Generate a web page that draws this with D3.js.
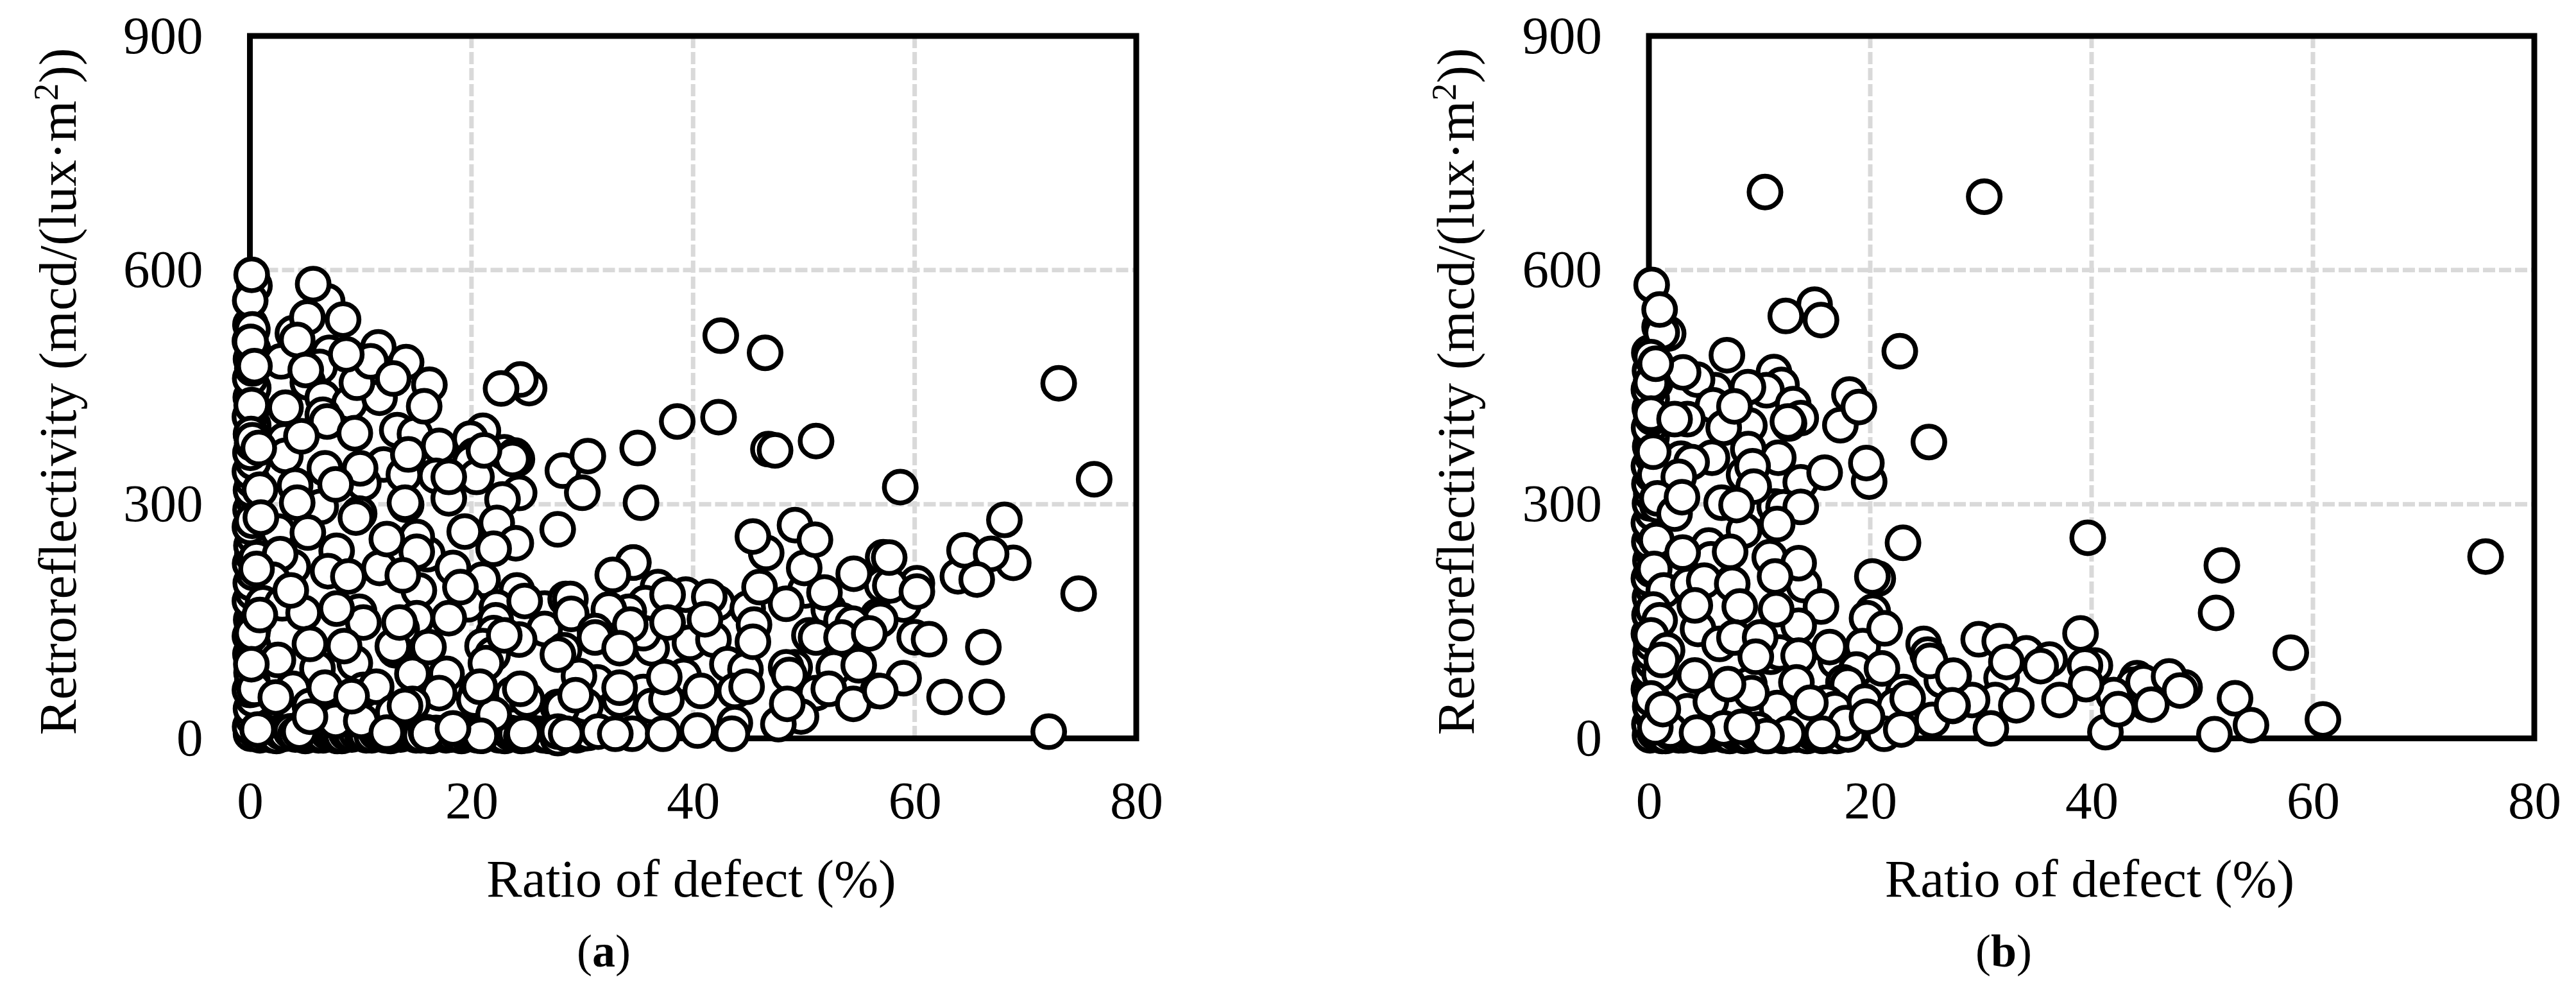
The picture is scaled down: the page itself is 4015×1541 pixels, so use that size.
<!doctype html>
<html lang="en">
    <head>
        <title>Retroreflectivity vs ratio of defect</title>
        <meta charset="utf-8">
        <style>
            body { margin: 0; background: #fff; }
            text { font-family: "Liberation Serif", "Times New Roman", serif; fill: #000; }
        </style>
    </head>
    <body>
        <svg></svg>
        <script src="https://d3js.org/d3.v7.min.js"></script>
        <script>
            //Tick labels
            var xTicks = [0, 20, 40, 60, 80];
            var yTicks = [0, 300, 600, 900];
            var xTitle = "Ratio of defect (%)";

            //Points are [ratio of defect, retroreflectivity], in drawing order
            //The stacks hugging both axes go first, they only show as a thick black band
            var bandA = [[0.1,6],[0.5,9],[0.9,4],[1.3,8],[1.6,7],[2,4],[2.4,3],[2.8,8],[3.2,6],[3.7,9],[4.1,5],[4.5,8],[5,3],[5.4,6],[5.8,7],[6.2,4],[6.6,4],[7,8],[7.5,6],[7.9,3],[8.3,3],[8.7,7],[9.2,5],[9.6,8],[10.1,7],[10.5,4],[11,4],[11.4,8],[11.8,6],[12.2,4],[12.7,3],[13.1,7],[13.6,5],[14,8],[14.5,7],[15,4],[15.4,4],[15.9,8],[16.3,3],[16.8,7],[17.2,6],[17.7,4],[18.2,5],[18.6,8],[19.1,3],[19.5,6],[20,6],[20.5,4],[21,4],[21.5,8],[22,7],[22.5,4],[23,3],[23.5,7],[24,6],[24.5,3],[25,4],[25.5,7],[26,6],[26.5,4],[27,3],[27.6,7],[28.2,5],[28.8,7],[29.5,4],[30,6],[30.5,7],
                [0.02,15],[0.25,26],[0.1,38],[0.3,50],[0,62],[0.22,73],[0.15,84],[0.3,96],[0.05,108],[0.28,119],[0,131],[0.2,141],[0.12,152],[0.32,164],[0,176],[0.25,187],[0.08,199],[0.3,212],[0.02,224],[0.22,235],[0.14,247],[0.3,259],[0,271],[0.26,282],[0.06,293],[0.3,306],[0.1,318],[0.24,330],[0,342],[0.28,354],[0.05,366],[0.2,378],[0.12,389],[0.3,401],[0,412],[0.25,425],[0.08,437],[0.3,449],[0.03,461],[0.22,474],[0.1,486],[0.28,498],[0,509],[0.05,530]];
            var backA = [[0.41,580],[0.03,561],[0.22,524],[0.07,508],[6.97,560],[3.88,519],[11.59,501],[14.1,482],[7.16,494],[6.29,476],[2.82,483],[16.2,453],[5.23,456],[6.58,436.5],[8.99,429.6],[11.7,436.5],[9.66,455.7],[0.16,427],[6.58,414.6],[13.3,395],[14.9,390],[0.1,390],[0.22,382],[3.1,381.7],[3.2,362],[17.08,374.8],[21.03,394],[19.9,384],[22.96,366.6],[23.9,362.5],[24.1,358],[23.7,358],[20.26,362.5],[19.9,354],[12.07,351],[6.39,326.8],[6.77,346],[10.24,327],[4.08,324],[16.8,336.4],[20.45,335],[24.3,314.5],[17.95,307.6],[25.2,448.8],[24.4,459.8],[14.1,299.4],[13.9,337.8],[22.8,306],
                [0.22,278.8],[2.53,265],[6.39,296.6],[4.27,302],[9.86,288],[14,302],[16.02,236],[15.06,258],[7.83,240.4],[22.28,276],[24,250],[0.6,230.8],[3.88,219.8],[2.73,236],[2.05,203.3],[7.06,214.3],[11.7,218.4],[15.25,189.6],[18.33,218.4],[21,203.3],[1.18,173],[0.32,143],[0.22,134.8],[2.92,173],[4.85,160.8],[3.69,189.6],[9.86,162.2],[10.24,148.5],[15.06,154],[19.68,171.8],[13.7,140],[13.13,112.9],[12.9,118],[24.1,189.6],[26.6,166.3],[26.6,140.3],[22.3,167.7],[22.19,151.2],[24.3,126.6],[22,134.8],[21,118.3],[21.9,107.4],[28.5,178.7],[2.53,100.5],[6.1,89.6],[9.47,96.4],[14.67,82.7],[17.75,82.7],[17.08,58],[0.41,63.5],[3.88,63.5],[10.24,62.1],[11.4,66.2],[5.42,41.6],[14.67,44.3],[12.94,33.3],[20.45,58],[20.26,49.8],[23.7,56.6],[25,49.8],[22,30.6],[27.8,40.2],[7.74,22.4],[10.05,22.4],[4.46,8.7],[12.36,7.3],[5.42,27.8],[16,6],[20.84,3.2],[27.8,0.4],
                [34.6,225.3],[36.83,193.8],[39.34,184.2],[35.68,173.2],[34.2,162.2],[32.4,165],[28.93,178.7],[29,159.5],[31.15,137.5],[28.36,112.9],[36.26,115.6],[35.5,134.8],[42.2,173.2],[41.46,181.4],[44.93,166.3],[50.13,189.6],[52.25,165],[45.5,145.8],[39.72,122.5],[41.84,126.6],[50.5,132],[54.56,134.8],[56.68,156.7],[53.4,151.2],[43.1,95],[44.73,88.2],[43.77,60.8],[49.17,91],[48.4,91],[52.7,89.6],[54.95,93.7],[51.1,58],[56.68,60.8],[49.74,28],[47.7,18.3],[39.15,80],[35.5,59.4],[31.34,71.7],[29.7,80],[36.26,41.6],[37.6,49.8],[33.37,49.8],[30.28,41.6],[28.16,38.8],[34.5,5.9],[43.77,19.6],[31.44,8.7],[27.8,8.7],[28.55,5.9],
                [46.6,237.6],[49.2,273.3],[50.03,218.4],[57.16,232],[57.07,196.5],[34.6,225.3],[59,171.5],[60,129.6],[60.2,198.7],[57.8,196],[46.8,370.6],[56.9,151.8],[54.4,146.9],[68.9,225],[63.9,207.7],[64.5,241]];
            var frontA = [[0.16,594],[5.19,539.3],[8.41,536.6],[4.27,510.5],[5.71,582],[10.9,483],[8.7,492],[0.41,477],[5.04,472],[12.94,461],[15.73,425.5],[3.21,423.6],[6.97,406],[9.47,391],[4.65,387],[0.8,372],[14.3,363.8],[9.95,346],[7.74,325.4],[17.95,335],[21.13,369],[0.9,318.6],[22.67,448.3],
                [0.99,282.9],[5.23,263.7],[9.57,282.9],[12.36,255.4],[15.06,239],[19.39,265],[22,243],[28.25,343],[30.5,361.7],[30,314.7],[0.6,217],[8.89,207.5],[13.8,208.8],[19,193.8],[0.9,158],[7.83,166.3],[13.5,148.5],[17.95,154],[24.8,176],[5.42,121],[8.5,118.3],[16.12,117],[22.96,132],[21.3,96.4],[27.8,107.4],[0.13,95],[2.34,52.5],[6.77,64.9],[9.18,54],[14,41.6],[20.74,66.2],[24.4,63.5],[0.7,11.4],[18.33,12.8],[24.69,5.9],
                [27.78,267.8],[38.57,406],[42.3,411.6],[42.5,516],[46.5,494],[35,372],[35.3,302],[47.4,369],[51.1,381],[58.7,322],[73,455],[76.2,332],[68.1,280],[66.9,236.5],[65.6,203.6],[74.8,185.5],[66.2,117],[66.5,53],[62.7,53],[72.1,8.6],[61.3,127],[59,77],[60.2,188],[57.7,231.6],[54.5,211],
                [45.4,258.7],[51,254.6],[32.75,209.4],[37.7,184.2],[41.07,152.6],[46,193.8],[48.4,172.4],[51.86,186.9],[34.33,145.8],[31.15,129.3],[33.37,115.6],[37.7,148.5],[45.4,123.8],[51.1,129.3],[53.4,129.3],[55.9,134.5],[33.37,64.9],[29.4,55.3],[40.7,60.8],[44.83,66.2],[48.68,81.3],[52.25,63.5],[48.5,44.3],[54.46,44.3],[37.4,78.6],[32.98,5.9],[37.3,5.9],[40.4,10],[43.5,5.9],[56.9,60.5]];

            var bandB = [[0.1,4],[0.5,8],[0.8,6],[1.2,3],[1.5,3],[1.9,8],[2.3,7],[2.7,4],[3.1,4],[3.5,8],[3.9,6],[4.4,4],[4.8,3],[5.2,7],[5.6,5],[6,8],[6.5,7],[6.9,4],[7.3,3],[7.8,7],[8.2,6],[8.6,3],[9,4],[9.5,8],[9.9,7],[10.4,4],[10.8,3],[11.2,7],[11.6,6],[12.1,3],[12.5,4],[13,8],[13.4,5],[13.9,7],[14.3,3],[14.8,7],[15.2,6],[15.7,3],[16.1,4],[16.5,7],[17,3],[18,5],
                [0.05,18],[0.3,30],[0.12,41],[0.28,52],[0,63],[0.25,75],[0.08,87],[0.3,98],[0.15,110],[0.22,122],[0,134],[0.3,146],[0.06,158],[0.26,170],[0.1,181],[0.3,193],[0,205],[0.24,216],[0.14,228],[0.3,240],[0.04,252],[0.26,264],[0,276],[0.3,289],[0.1,301],[0.22,313],[0.05,326],[0.28,338],[0,349],[0.3,361],[0.12,374],[0.24,386],[0.02,398],[0.3,411],[0.08,423],[0.25,435],[0,447],[0.28,459],[0.1,471],[0.04,494]];
            var backB = [[0.25,581],[1.74,518.7],[0.97,527],[1.16,520],[0.19,488.5],[0.58,455.6],[0.19,455.6],[14.97,555.7],[18.12,440.5],[17.3,401.3],[19.9,329],[11.3,469.3],[11.98,452.9],[10.63,446],[5.99,446],[4.35,459.7],[3.09,469],[5.8,426.8],[13.04,428.2],[13.72,410.4],[12.66,403.5],[3.48,409],[0.19,416],[8.21,406],[9.08,400.8],[6.76,398],[8.98,370.6],[11.69,359.6],[5.7,359.6],[8.6,337.7],[13.72,328],[2.9,358.3],[3.86,354],[0.58,337.7],[2.7,335],[0.77,299],[0.77,307.5],[6.57,302],[10.24,298],[11.37,297],[12.17,296],[13.72,296.6],
                [2.32,288],[11.59,274.6],[8.6,266.4],[0.68,254],[5.41,247],[5.6,229.4],[7.34,239],[10.92,232],[14,196.5],[20.68,204.7],[0.48,217],[1.35,189.6],[3.57,196.5],[5,202],[7.53,198],[0.39,165],[0.97,151.2],[8.21,169],[15.55,169],[13.53,144.4],[4.44,140.3],[0.19,132],[1.64,112.9],[6.38,121],[7.73,129.3],[11,104.6],[11.79,110],[10.05,129.3],[13.53,106],[16.9,99.2],[20.23,162.2],[19.71,154],[19.32,118.3],[24.83,121],[25.2,107.4],[18.74,88.2],[0.97,82.7],[9.08,69],[13.33,71.7],[17.58,71.7],[17.97,69],[22.99,59.4],[26.47,74.5],[16.04,45.7],[16.81,37.5],[19.52,47],[11.59,38.8],[9.27,58],[0.19,51.2],[3.48,34.7],[5.6,47],[22.22,41.6],[25.6,23.7],[21.25,5.9],[13.72,17],[17.78,19.6],[9.85,11.4],[6.76,12.8],[1.93,10],[0.58,14.1],[12.56,6],[10.63,3],
                [29.8,127],[31.7,124.6],[34.1,109],[36.2,101],[40.3,93.4],[31.87,77.2],[31.3,49.2],[29.2,49.2],[44.1,77],[43.8,68.7],[48.4,65.4],[45,45],[42,55.5]];
            var frontB = [[0.97,549.4],[10.49,700],[30.3,694],[0.62,480],[7.05,491],[12.37,541.2],[15.55,536],[22.67,496],[18.97,424.6],[25.3,379.7],[19.65,352.8],[8.95,450],[7.73,425.4],[12.56,406],[2.32,409],[0.39,367.3],[9.37,348.7],[15.88,340.5],[9.47,322.6],[2.99,309],[7.92,299],
                [3.05,238],[13.53,224.5],[11.4,207.5],[20.19,207.5],[22.96,250.5],[4.15,170.4],[11.5,165.5],[21.3,141],[1.16,100.5],[9.66,104.6],[16.33,117],[4.15,80.5],[7.15,69.5],[21.06,89.6],[25.4,99.2],[23.38,51.2],[27.44,41.6],[27.54,80],[14.59,45.7],[1.26,37.5],[4.35,7.3],[8.4,14.7],[15.65,5.9],[19.71,27.8],[22.8,11.4],
                [39.65,257],[51.77,221.7],[51.25,160.8],[58,109.8],[75.6,233],[52.96,51.4],[54.4,16.9],[51.1,5.3],[60.9,24.3],[41.25,8],[30.9,12.7],[39,134.5],[39.4,93.4],[39.5,69.5],[37.1,49.2],[35.4,92.6],[32.3,97.9],[33.2,42.4],[27.5,80.4],[27.4,42.4],[44.7,72],[47,79.4],[47.99,61.3],[45.4,43.2],[42.4,37.4]];

            var svgWidth = 4015;
            var svgHeight = 1541;
            var svg = d3.select("svg")
                .attr("width", svgWidth)
                .attr("height", svgHeight);

            //Both panels sit on the same vertical scale
            var y = d3.scaleLinear().domain([0, 900]).range([1150.5, 56]);

            drawPanel({left: 389.5, right: 1771, titleX: 1077.5, yTitleX: 118, letter: "a", letterX: 941,
                points: bandA.concat(backA, frontA)});
            drawPanel({left: 2570, right: 3950, titleX: 3257, yTitleX: 2297, letter: "b", letterX: 3123,
                points: bandB.concat(backB, frontB)});

            function drawPanel(p){
                var x = d3.scaleLinear().domain([0, 80]).range([p.left, p.right]);
                var g = svg.append("g");

                //Dashed grid, inner lines only
                g.selectAll("line.gx").data(xTicks.slice(1, -1)).enter().append("line")
                    .attr("class", "gx")
                    .attr("x1", x).attr("x2", x)
                    .attr("y1", y(900)).attr("y2", y(0));
                g.selectAll("line.gy").data(yTicks.slice(1, -1)).enter().append("line")
                    .attr("class", "gy")
                    .attr("y1", y).attr("y2", y)
                    .attr("x1", p.left).attr("x2", p.right);
                g.selectAll("line")
                    .attr("stroke", "#d9d9d9")
                    .attr("stroke-width", 7)
                    .attr("stroke-dasharray", "19 6");

                //Plot frame
                g.append("rect")
                    .attr("x", p.left).attr("y", y(900))
                    .attr("width", p.right - p.left).attr("height", y(0) - y(900))
                    .attr("fill", "none")
                    .attr("stroke", "#000")
                    .attr("stroke-width", 9);

                //Tick labels through the axes, no ticks or domain line
                var xAxis = g.append("g")
                    .attr("transform", "translate(0," + 1275 + ")")
                    .call(d3.axisBottom(x).tickValues(xTicks).tickSize(0).tickPadding(0));
                xAxis.select(".domain").remove();
                xAxis.selectAll("text")
                    .attr("y", 0).attr("dy", 0)
                    .attr("font-size", 83).attr("font-family", null);
                var yAxis = g.append("g")
                    .attr("transform", "translate(" + (p.left - 73) + ",0)")
                    .call(d3.axisLeft(y).tickValues(yTicks).tickSize(0).tickPadding(0));
                yAxis.select(".domain").remove();
                yAxis.selectAll("text")
                    .attr("x", 0).attr("dy", 26)
                    .attr("font-size", 83).attr("font-family", null);
                xAxis.attr("font-family", null).attr("fill", null);
                yAxis.attr("font-family", null).attr("fill", null);

                //Markers
                g.selectAll("circle").data(p.points).enter().append("circle")
                    .attr("cx", function(d){ return x(d[0]); })
                    .attr("cy", function(d){ return y(d[1]); })
                    .attr("r", 24.75)
                    .attr("fill", "#fff")
                    .attr("stroke", "#000")
                    .attr("stroke-width", 7.5);

                //Axis titles
                g.append("text")
                    .attr("x", p.titleX).attr("y", 1397)
                    .attr("text-anchor", "middle")
                    .attr("font-size", 83)
                    .text(xTitle);
                var yTitle = g.append("text")
                    .attr("transform", "translate(" + p.yTitleX + ",610) rotate(-90)")
                    .attr("text-anchor", "middle")
                    .attr("font-size", 83);
                yTitle.append("tspan").text("Retroreflectivity (mcd/(lux\u00b7m");
                yTitle.append("tspan").attr("dy", -28).attr("font-size", 54).text("2");
                yTitle.append("tspan").attr("dy", 28).text("))");

                //Panel letter
                var letter = g.append("text")
                    .attr("x", p.letterX).attr("y", 1506)
                    .attr("text-anchor", "middle")
                    .attr("font-size", 72);
                letter.append("tspan").text("(");
                letter.append("tspan").attr("font-weight", "bold").text(p.letter);
                letter.append("tspan").text(")");
            }
        </script>
    </body>
</html>
